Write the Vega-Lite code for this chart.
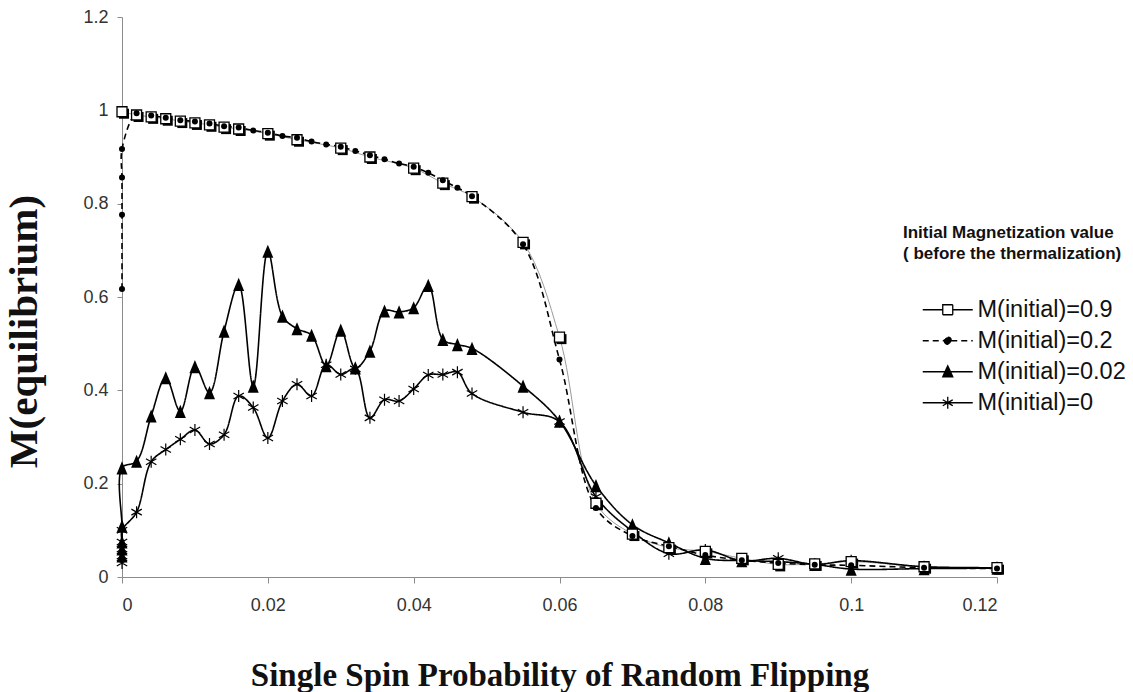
{
  "$schema": "https://vega.github.io/schema/vega-lite/v6.json",
  "width": 875,
  "height": 560,
  "autosize": {"type": "none"},
  "padding": {"left": 122, "top": 17, "right": 136, "bottom": 115},
  "background": "#ffffff",
  "config": {
    "view": {"stroke": null},
    "axis": {
      "grid": false,
      "domainColor": "#8c8c8c",
      "tickColor": "#8c8c8c",
      "labelFont": "Liberation Sans",
      "labelFontSize": 18,
      "labelColor": "#333333",
      "titleFont": "Liberation Serif",
      "titleFontWeight": "bold",
      "titleColor": "#111111",
      "labelOverlap": false
    },
    "legend": {
      "orient": "none",
      "legendX": 781,
      "legendY": 208,
      "padding": 0,
      "titleFont": "Liberation Sans",
      "titleFontWeight": "bold",
      "titleFontSize": 17,
      "titleLineHeight": 21,
      "titleColor": "#111111",
      "titleAnchor": "start",
      "titleAlign": "left",
      "titlePadding": 35,
      "titleLimit": 500,
      "labelFont": "Liberation Sans",
      "labelFontSize": 23.5,
      "labelColor": "#111111",
      "labelOffset": 18,
      "labelLimit": 300,
      "symbolSize": 100,
      "symbolOffset": 33,
      "symbolStrokeWidth": 1.3,
      "symbolOpacity": 1,
      "rowPadding": 6
    }
  },
  "data": {
    "values": [
      {"p": 0, "m": 0.997, "s": "M(initial)=0.9"},
      {"p": 0.002, "m": 0.99, "s": "M(initial)=0.9"},
      {"p": 0.004, "m": 0.986, "s": "M(initial)=0.9"},
      {"p": 0.006, "m": 0.982, "s": "M(initial)=0.9"},
      {"p": 0.008, "m": 0.977, "s": "M(initial)=0.9"},
      {"p": 0.01, "m": 0.973, "s": "M(initial)=0.9"},
      {"p": 0.012, "m": 0.969, "s": "M(initial)=0.9"},
      {"p": 0.014, "m": 0.964, "s": "M(initial)=0.9"},
      {"p": 0.016, "m": 0.96, "s": "M(initial)=0.9"},
      {"p": 0.02, "m": 0.95, "s": "M(initial)=0.9"},
      {"p": 0.024, "m": 0.937, "s": "M(initial)=0.9"},
      {"p": 0.03, "m": 0.919, "s": "M(initial)=0.9"},
      {"p": 0.034, "m": 0.9, "s": "M(initial)=0.9"},
      {"p": 0.04, "m": 0.876, "s": "M(initial)=0.9"},
      {"p": 0.044, "m": 0.844, "s": "M(initial)=0.9"},
      {"p": 0.048, "m": 0.815, "s": "M(initial)=0.9"},
      {"p": 0.055, "m": 0.717, "s": "M(initial)=0.9"},
      {"p": 0.06, "m": 0.514, "s": "M(initial)=0.9"},
      {"p": 0.065, "m": 0.158, "s": "M(initial)=0.9"},
      {"p": 0.07, "m": 0.092, "s": "M(initial)=0.9"},
      {"p": 0.075, "m": 0.063, "s": "M(initial)=0.9"},
      {"p": 0.08, "m": 0.055, "s": "M(initial)=0.9"},
      {"p": 0.085, "m": 0.04, "s": "M(initial)=0.9"},
      {"p": 0.09, "m": 0.027, "s": "M(initial)=0.9"},
      {"p": 0.095, "m": 0.028, "s": "M(initial)=0.9"},
      {"p": 0.1, "m": 0.033, "s": "M(initial)=0.9"},
      {"p": 0.11, "m": 0.022, "s": "M(initial)=0.9"},
      {"p": 0.12, "m": 0.02, "s": "M(initial)=0.9"},

      {"p": 0, "m": 0.617, "s": "M(initial)=0.2"},
      {"p": 0, "m": 0.776, "s": "M(initial)=0.2"},
      {"p": 0, "m": 0.856, "s": "M(initial)=0.2"},
      {"p": 0, "m": 0.917, "s": "M(initial)=0.2"},
      {"p": 0.002, "m": 0.994, "s": "M(initial)=0.2"},
      {"p": 0.004, "m": 0.989, "s": "M(initial)=0.2"},
      {"p": 0.006, "m": 0.984, "s": "M(initial)=0.2"},
      {"p": 0.008, "m": 0.979, "s": "M(initial)=0.2"},
      {"p": 0.01, "m": 0.976, "s": "M(initial)=0.2"},
      {"p": 0.012, "m": 0.972, "s": "M(initial)=0.2"},
      {"p": 0.014, "m": 0.966, "s": "M(initial)=0.2"},
      {"p": 0.016, "m": 0.963, "s": "M(initial)=0.2"},
      {"p": 0.018, "m": 0.957, "s": "M(initial)=0.2"},
      {"p": 0.02, "m": 0.952, "s": "M(initial)=0.2"},
      {"p": 0.022, "m": 0.945, "s": "M(initial)=0.2"},
      {"p": 0.024, "m": 0.941, "s": "M(initial)=0.2"},
      {"p": 0.026, "m": 0.933, "s": "M(initial)=0.2"},
      {"p": 0.028, "m": 0.927, "s": "M(initial)=0.2"},
      {"p": 0.03, "m": 0.922, "s": "M(initial)=0.2"},
      {"p": 0.032, "m": 0.913, "s": "M(initial)=0.2"},
      {"p": 0.034, "m": 0.904, "s": "M(initial)=0.2"},
      {"p": 0.036, "m": 0.895, "s": "M(initial)=0.2"},
      {"p": 0.038, "m": 0.886, "s": "M(initial)=0.2"},
      {"p": 0.04, "m": 0.879, "s": "M(initial)=0.2"},
      {"p": 0.042, "m": 0.866, "s": "M(initial)=0.2"},
      {"p": 0.044, "m": 0.85, "s": "M(initial)=0.2"},
      {"p": 0.046, "m": 0.834, "s": "M(initial)=0.2"},
      {"p": 0.048, "m": 0.816, "s": "M(initial)=0.2"},
      {"p": 0.055, "m": 0.713, "s": "M(initial)=0.2"},
      {"p": 0.06, "m": 0.466, "s": "M(initial)=0.2"},
      {"p": 0.065, "m": 0.148, "s": "M(initial)=0.2"},
      {"p": 0.07, "m": 0.088, "s": "M(initial)=0.2"},
      {"p": 0.075, "m": 0.066, "s": "M(initial)=0.2"},
      {"p": 0.08, "m": 0.047, "s": "M(initial)=0.2"},
      {"p": 0.085, "m": 0.036, "s": "M(initial)=0.2"},
      {"p": 0.09, "m": 0.03, "s": "M(initial)=0.2"},
      {"p": 0.095, "m": 0.026, "s": "M(initial)=0.2"},
      {"p": 0.1, "m": 0.025, "s": "M(initial)=0.2"},
      {"p": 0.11, "m": 0.02, "s": "M(initial)=0.2"},
      {"p": 0.12, "m": 0.018, "s": "M(initial)=0.2"},

      {"p": 0, "m": 0.045, "s": "M(initial)=0.02"},
      {"p": 0, "m": 0.06, "s": "M(initial)=0.02"},
      {"p": 0, "m": 0.075, "s": "M(initial)=0.02"},
      {"p": 0, "m": 0.109, "s": "M(initial)=0.02"},
      {"p": 0, "m": 0.234, "s": "M(initial)=0.02"},
      {"p": 0.002, "m": 0.248, "s": "M(initial)=0.02"},
      {"p": 0.004, "m": 0.345, "s": "M(initial)=0.02"},
      {"p": 0.006, "m": 0.427, "s": "M(initial)=0.02"},
      {"p": 0.008, "m": 0.355, "s": "M(initial)=0.02"},
      {"p": 0.01, "m": 0.451, "s": "M(initial)=0.02"},
      {"p": 0.012, "m": 0.395, "s": "M(initial)=0.02"},
      {"p": 0.014, "m": 0.527, "s": "M(initial)=0.02"},
      {"p": 0.016, "m": 0.627, "s": "M(initial)=0.02"},
      {"p": 0.018, "m": 0.409, "s": "M(initial)=0.02"},
      {"p": 0.02, "m": 0.698, "s": "M(initial)=0.02"},
      {"p": 0.022, "m": 0.559, "s": "M(initial)=0.02"},
      {"p": 0.024, "m": 0.532, "s": "M(initial)=0.02"},
      {"p": 0.026, "m": 0.518, "s": "M(initial)=0.02"},
      {"p": 0.028, "m": 0.453, "s": "M(initial)=0.02"},
      {"p": 0.03, "m": 0.529, "s": "M(initial)=0.02"},
      {"p": 0.032, "m": 0.448, "s": "M(initial)=0.02"},
      {"p": 0.034, "m": 0.484, "s": "M(initial)=0.02"},
      {"p": 0.036, "m": 0.57, "s": "M(initial)=0.02"},
      {"p": 0.038, "m": 0.568, "s": "M(initial)=0.02"},
      {"p": 0.04, "m": 0.577, "s": "M(initial)=0.02"},
      {"p": 0.042, "m": 0.625, "s": "M(initial)=0.02"},
      {"p": 0.044, "m": 0.509, "s": "M(initial)=0.02"},
      {"p": 0.046, "m": 0.498, "s": "M(initial)=0.02"},
      {"p": 0.048, "m": 0.49, "s": "M(initial)=0.02"},
      {"p": 0.055, "m": 0.409, "s": "M(initial)=0.02"},
      {"p": 0.06, "m": 0.334, "s": "M(initial)=0.02"},
      {"p": 0.065, "m": 0.196, "s": "M(initial)=0.02"},
      {"p": 0.07, "m": 0.112, "s": "M(initial)=0.02"},
      {"p": 0.075, "m": 0.073, "s": "M(initial)=0.02"},
      {"p": 0.08, "m": 0.04, "s": "M(initial)=0.02"},
      {"p": 0.085, "m": 0.035, "s": "M(initial)=0.02"},
      {"p": 0.09, "m": 0.033, "s": "M(initial)=0.02"},
      {"p": 0.095, "m": 0.027, "s": "M(initial)=0.02"},
      {"p": 0.1, "m": 0.017, "s": "M(initial)=0.02"},
      {"p": 0.11, "m": 0.018, "s": "M(initial)=0.02"},
      {"p": 0.12, "m": 0.019, "s": "M(initial)=0.02"},

      {"p": 0, "m": 0.03, "s": "M(initial)=0"},
      {"p": 0, "m": 0.045, "s": "M(initial)=0"},
      {"p": 0, "m": 0.06, "s": "M(initial)=0"},
      {"p": 0, "m": 0.075, "s": "M(initial)=0"},
      {"p": 0, "m": 0.1, "s": "M(initial)=0"},
      {"p": 0.002, "m": 0.139, "s": "M(initial)=0"},
      {"p": 0.004, "m": 0.247, "s": "M(initial)=0"},
      {"p": 0.006, "m": 0.273, "s": "M(initial)=0"},
      {"p": 0.008, "m": 0.295, "s": "M(initial)=0"},
      {"p": 0.01, "m": 0.315, "s": "M(initial)=0"},
      {"p": 0.012, "m": 0.285, "s": "M(initial)=0"},
      {"p": 0.014, "m": 0.305, "s": "M(initial)=0"},
      {"p": 0.016, "m": 0.388, "s": "M(initial)=0"},
      {"p": 0.018, "m": 0.363, "s": "M(initial)=0"},
      {"p": 0.02, "m": 0.298, "s": "M(initial)=0"},
      {"p": 0.022, "m": 0.377, "s": "M(initial)=0"},
      {"p": 0.024, "m": 0.413, "s": "M(initial)=0"},
      {"p": 0.026, "m": 0.388, "s": "M(initial)=0"},
      {"p": 0.028, "m": 0.455, "s": "M(initial)=0"},
      {"p": 0.03, "m": 0.434, "s": "M(initial)=0"},
      {"p": 0.032, "m": 0.446, "s": "M(initial)=0"},
      {"p": 0.034, "m": 0.341, "s": "M(initial)=0"},
      {"p": 0.036, "m": 0.38, "s": "M(initial)=0"},
      {"p": 0.038, "m": 0.377, "s": "M(initial)=0"},
      {"p": 0.04, "m": 0.403, "s": "M(initial)=0"},
      {"p": 0.042, "m": 0.433, "s": "M(initial)=0"},
      {"p": 0.044, "m": 0.434, "s": "M(initial)=0"},
      {"p": 0.046, "m": 0.439, "s": "M(initial)=0"},
      {"p": 0.048, "m": 0.393, "s": "M(initial)=0"},
      {"p": 0.055, "m": 0.353, "s": "M(initial)=0"},
      {"p": 0.06, "m": 0.333, "s": "M(initial)=0"},
      {"p": 0.065, "m": 0.172, "s": "M(initial)=0"},
      {"p": 0.07, "m": 0.098, "s": "M(initial)=0"},
      {"p": 0.075, "m": 0.05, "s": "M(initial)=0"},
      {"p": 0.08, "m": 0.058, "s": "M(initial)=0"},
      {"p": 0.085, "m": 0.035, "s": "M(initial)=0"},
      {"p": 0.09, "m": 0.04, "s": "M(initial)=0"},
      {"p": 0.095, "m": 0.027, "s": "M(initial)=0"},
      {"p": 0.1, "m": 0.035, "s": "M(initial)=0"},
      {"p": 0.11, "m": 0.022, "s": "M(initial)=0"},
      {"p": 0.12, "m": 0.02, "s": "M(initial)=0"}
    ]
  },
  "encoding": {
    "x": {
      "field": "p",
      "type": "quantitative",
      "scale": {"domain": [0, 0.12], "nice": false, "zero": false},
      "axis": {
        "values": [0, 0.02, 0.04, 0.06, 0.08, 0.1, 0.12],
        "format": ".2~g",
        "title": "Single Spin Probability of Random Flipping",
        "titleFontSize": 33,
        "titleBaseline": "alphabetic",
        "titleY": 108,
        "tickSize": 6,
        "labelPadding": 13
      }
    },
    "y": {
      "field": "m",
      "type": "quantitative",
      "scale": {"domain": [0, 1.2], "nice": false},
      "axis": {
        "values": [0, 0.2, 0.4, 0.6, 0.8, 1, 1.2],
        "format": ".2~g",
        "title": "M(equilibrium)",
        "titleFontSize": 41,
        "titleBaseline": "alphabetic",
        "titleAngle": -90,
        "titleX": -86,
        "titleY": 314,
        "tickSize": 5,
        "labelPadding": 9
      }
    }
  },
  "layer": [
    {
      "transform": [{"filter": "datum.s === 'M(initial)=0.9'"}],
      "mark": {"type": "line", "interpolate": "catmull-rom", "strokeWidth": 1, "color": "#9a9a9a"}
    },
    {
      "transform": [{"filter": "datum.s !== 'M(initial)=0.9'"}],
      "mark": {"type": "line", "interpolate": "catmull-rom", "strokeWidth": 1.6, "color": "#000000"},
      "encoding": {
        "detail": {"field": "s", "type": "nominal"},
        "strokeDash": {
          "field": "s",
          "type": "nominal",
          "scale": {
            "domain": ["M(initial)=0.9", "M(initial)=0.2", "M(initial)=0.02", "M(initial)=0"],
            "range": [[1, 0], [6, 4], [1, 0], [1, 0]]
          },
          "legend": {"title": ["Initial Magnetization value", "( before the thermalization)"]}
        }
      }
    },
    {
      "transform": [{"filter": "false"}],
      "mark": {"type": "point", "size": 100, "strokeWidth": 1.3, "stroke": "#222222", "opacity": 1},
      "encoding": {
        "shape": {
          "field": "s",
          "type": "nominal",
          "scale": {
            "domain": ["M(initial)=0.9", "M(initial)=0.2", "M(initial)=0.02", "M(initial)=0"],
            "range": [
              "M-5,0H-1M1,0H5M-1,-1H1V1H-1Z",
              "M-5,0H-0.7M0.7,0H5M-0.7,0A0.7,0.7,0,1,0,0.7,0A0.7,0.7,0,1,0,-0.7,0Z",
              "M-5,0H5M0,-1.2L1,1H-1Z",
              "M-5,0H5M0,-1.2V1.2M-1,-0.6L1,0.6M-1,0.6L1,-0.6"
            ]
          },
          "legend": {"title": ["Initial Magnetization value", "( before the thermalization)"]}
        },
        "fill": {
          "field": "s",
          "type": "nominal",
          "scale": {
            "domain": ["M(initial)=0.9", "M(initial)=0.2", "M(initial)=0.02", "M(initial)=0"],
            "range": ["#ffffff", "#000000", "#000000", "transparent"]
          },
          "legend": {"title": ["Initial Magnetization value", "( before the thermalization)"]}
        },
        "strokeDash": {
          "field": "s",
          "type": "nominal",
          "scale": {
            "domain": ["M(initial)=0.9", "M(initial)=0.2", "M(initial)=0.02", "M(initial)=0"],
            "range": [[1, 0], [6, 4], [1, 0], [1, 0]]
          },
          "legend": {"title": ["Initial Magnetization value", "( before the thermalization)"]}
        }
      }
    },
    {
      "transform": [{"filter": "datum.s === 'M(initial)=0.02'"}],
      "mark": {"type": "point", "shape": "M0,-1.2L1,1.2H-1Z", "filled": true, "color": "#000000", "size": 121, "opacity": 1}
    },
    {
      "transform": [{"filter": "datum.s === 'M(initial)=0'"}],
      "mark": {"type": "point", "shape": "M0,-1V1M-0.87,-0.5L0.87,0.5M-0.87,0.5L0.87,-0.5", "filled": false, "color": "#000000", "strokeWidth": 1.2, "size": 144, "opacity": 1}
    },
    {
      "transform": [{"filter": "datum.s === 'M(initial)=0.9'"}],
      "mark": {"type": "point", "shape": "square", "filled": true, "color": "#000000", "size": 100, "xOffset": 2, "yOffset": 2, "opacity": 1}
    },
    {
      "transform": [{"filter": "datum.s === 'M(initial)=0.9'"}],
      "mark": {"type": "point", "shape": "square", "filled": true, "fill": "#ffffff", "stroke": "#000000", "strokeWidth": 1.3, "size": 100, "opacity": 1}
    },
    {
      "transform": [{"filter": "datum.s === 'M(initial)=0.2'"}],
      "mark": {"type": "circle", "color": "#000000", "size": 36, "opacity": 1}
    }
  ]
}
